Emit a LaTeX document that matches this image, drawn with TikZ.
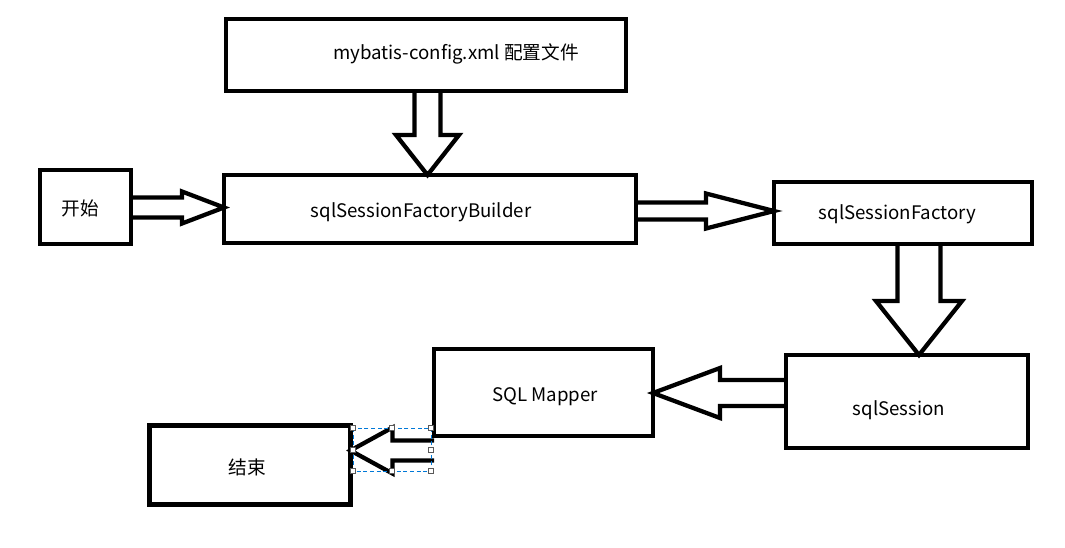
\documentclass[tikz,border=0pt]{standalone}
\usepackage{fontspec}
\setmainfont{Noto Sans CJK SC}
\usepackage{tikz}
\usetikzlibrary{calc,
                    positioning}
\tikzset{
caixa/.style={draw, line width=3.4pt, outer sep=0pt, inner sep=0pt}
                }
\tikzset{
texto/.style = {font=\fontsize{14}{16}\selectfont, inner sep=0pt}
         }
\tikzset{
seta/.style = {line width=3.2pt, line join=miter}
         }
\tikzset{
selecao/.style = {draw=selblue, line width=0.75pt, dash pattern=on 3pt off 2pt}
         }
\definecolor{selblue}{RGB}{0,120,215}
% seta larga: inicio, ponta, meia largura do corpo, meia largura da cabeca, comprimento da cabeca
\newcommand{\setalarga}[5]{
    \coordinate (hb) at ($(#2)!#5*0.75pt!(#1)$);
    \draw[seta] ($(#1)!#3*0.75pt!90:(#2)$) -- ($(hb)!#3*0.75pt!90:(#2)$)
        -- ($(hb)!#4*0.75pt!90:(#2)$) -- (#2) -- ($(hb)!#4*0.75pt!-90:(#2)$)
        -- ($(hb)!#3*0.75pt!-90:(#2)$) -- ($(#1)!#3*0.75pt!-90:(#2)$);
}

\begin{document}
\begin{tikzpicture}[x=0.75pt,y=-0.75pt]
        \useasboundingbox (0,0) rectangle (1065,547);

        % caixas
        \node[caixa, minimum width=400*0.75pt, minimum height=72*0.75pt] (cfg) at (426,55) {};
        \node[caixa, minimum width=91*0.75pt, minimum height=74*0.75pt] (start) at (85.5,207) {};
        \node[caixa, minimum width=412*0.75pt, minimum height=68*0.75pt] (builder) at (430,209) {};
        \node[caixa, minimum width=258*0.75pt, minimum height=62*0.75pt] (factory) at (903,213) {};
        \node[caixa, minimum width=242*0.75pt, minimum height=93*0.75pt] (session) at (907,401.5) {};
        \node[caixa, minimum width=219*0.75pt, minimum height=87*0.75pt] (mapper) at (543.5,392.5) {};
        \node[caixa, minimum width=201*0.75pt, minimum height=79*0.75pt] (finish) at (250,465) {};

        % textos
        \node[texto] (cfgtxt) at (456,53.5) {mybatis-config.xml 配置文件};
        \node[texto] (starttxt) at (80.5,208) {开始};
        \node[texto] (buildertxt) at (421,212) {sqlSessionFactoryBuilder};
        \node[texto] (factorytxt) at (897.5,214) {sqlSessionFactory};
        \node[texto] (sessiontxt) at (899,410) {sqlSession};
        \node[texto] (mappertxt) at (545,397) {SQL Mapper};
        \node[texto] (finishtxt) at (247,467) {结束};

        % setas
        \coordinate (c1a) at (427.5,0 |- cfg.south);
        \coordinate (c1b) at (427.5,0 |- builder.north);
        \setalarga{c1a}{c1b}{13}{31.5}{40}

        \coordinate (c2a) at (start.east |- 0,207.5);
        \coordinate (c2b) at (builder.west |- 0,207.5);
        \setalarga{c2a}{c2b}{10}{16}{42}

        \coordinate (c3a) at (builder.east |- 0,211);
        \coordinate (c3b) at (factory.west |- 0,211);
        \setalarga{c3a}{c3b}{8.5}{17.5}{68}

        \coordinate (c4a) at (919,0 |- factory.south);
        \coordinate (c4b) at (919,0 |- session.north);
        \setalarga{c4a}{c4b}{21.5}{43}{54}

        \coordinate (c5a) at (session.west |- 0,393);
        \coordinate (c5b) at (mapper.east |- 0,393);
        \setalarga{c5a}{c5b}{13}{25}{67}

        \coordinate (c6a) at (mapper.west |- 0,450.5);
        \coordinate (c6b) at (finish.east |- 0,450.5);
        \setalarga{c6a}{c6b}{10}{23}{42}

        % selecao
        \coordinate (s1) at (353,428);
        \coordinate (s2) at (431,471);
        \draw[selecao] (s1) rectangle (s2);
        \foreach \hx/\hy in {353/428, 392/428, 431/428, 353/450, 431/450, 353/471, 392/471, 431/471}
            \draw[gray!70!black, fill=white, line width=0.6pt] (\hx-2.5,\hy-2.5) rectangle (\hx+2.5,\hy+2.5);
    \end{tikzpicture}
\end{document}
